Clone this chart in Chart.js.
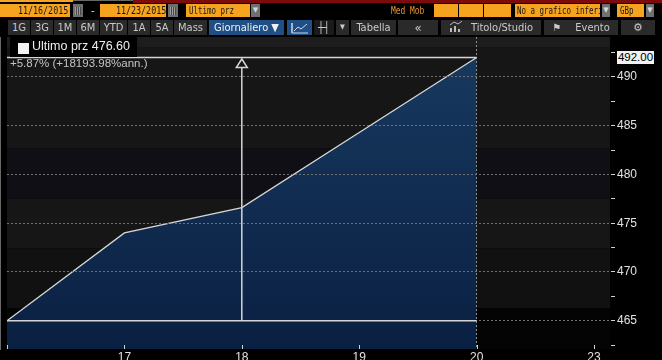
<!DOCTYPE html>
<html><head><meta charset="utf-8">
<script src="https://cdn.jsdelivr.net/npm/chart.js@4.4.1/dist/chart.umd.min.js"></script>
<style>
html,body{margin:0;padding:0;background:#000;overflow:hidden;width:662px;height:360px;}
#wrap{position:relative;width:662px;height:360px;background:#000;}
#c{position:absolute;left:0;top:0;}
.abs{position:absolute;white-space:nowrap;overflow:hidden;}
.ob{position:absolute;top:4px;height:13px;background:#f6a41f;color:#151515;font:11px "DejaVu Sans Mono",monospace;line-height:13px;white-space:nowrap;overflow:hidden;}
.ob span{display:inline-block;transform:scaleX(0.68);transform-origin:left center;}
.ob.r span{transform:scaleX(0.76);transform-origin:right center;}
.dd{position:absolute;top:4px;height:13px;background:#707070;color:#d8d8d8;font:7px "DejaVu Sans",sans-serif;line-height:13px;text-align:center;}
.cal{position:absolute;top:4px;height:13px;background:#6e6e6e;}
.cal i{position:absolute;left:2px;right:2px;top:3px;bottom:2px;background:repeating-linear-gradient(90deg,#9a9a9a 0 1px,#4a4a4a 1px 2px);}
.bt{position:absolute;top:20px;height:15px;background:#2a2a2a;color:#c9c9c9;font:11px "Liberation Sans Narrow","DejaVu Sans Condensed","Liberation Sans",sans-serif;line-height:15px;text-align:center;white-space:nowrap;overflow:hidden;}
.bt.blue{background:#1f4f85;color:#f0f0f0;}
</style>
</head>
<body>
<div id="wrap">
<canvas id="c" width="662" height="360"></canvas>

<!-- top strips -->
<div class="abs" style="left:0;top:0;width:73px;height:2px;background:#f6a41f"></div>
<div class="abs" style="left:133px;top:0;width:529px;height:3px;background:#7e0b0b"></div>

<!-- row 1 -->
<div class="ob r" style="left:0;width:70px;text-align:right"><span style="margin-right:2px">11/16/2015</span></div>
<div class="cal" style="left:73px;width:10px"><i></i></div>
<div class="abs" style="left:91px;top:4px;color:#ddd;font:11px 'Liberation Sans',sans-serif;line-height:13px">-</div>
<div class="ob r" style="left:100px;width:66px;text-align:right"><span style="margin-right:1px">11/23/2015</span></div>
<div class="cal" style="left:168px;width:10px"><i></i></div>
<div class="ob" style="left:186px;width:64px"><span style="margin-left:3px">Ultimo prz</span></div>
<div class="dd" style="left:251px;width:9px">▼</div>
<div class="abs" style="left:391px;top:4px;color:#e8932e;font:11px 'DejaVu Sans Mono',monospace;line-height:13px"><span style="display:inline-block;transform:scaleX(0.72);transform-origin:left center">Med Mob</span></div>
<div class="ob" style="left:434px;width:24px"></div>
<div class="ob" style="left:459px;width:24px"></div>
<div class="ob" style="left:484px;width:27px"></div>
<div class="ob" style="left:515px;width:85px"><span style="margin-left:2px">No a grafico inferi</span></div>
<div class="dd" style="left:602px;width:8px">▼</div>
<div class="ob" style="left:617px;width:27px"><span style="margin-left:3px">GBp</span></div>
<div class="dd" style="left:646px;width:8px">▼</div>

<!-- row 2 -->
<div class="bt" style="left:8px;width:22px">1G</div>
<div class="bt" style="left:31px;width:22px">3G</div>
<div class="bt" style="left:54px;width:22px">1M</div>
<div class="bt" style="left:77px;width:22px">6M</div>
<div class="bt" style="left:100px;width:27px">YTD</div>
<div class="bt" style="left:128px;width:22px">1A</div>
<div class="bt" style="left:151px;width:22px">5A</div>
<div class="bt" style="left:174px;width:33px">Mass</div>
<div class="bt blue" style="left:209px;width:75px">Giornaliero ▼</div>
<div class="bt blue" style="left:287px;width:25px"><svg width="18" height="12" style="margin-top:2px"><polyline points="1,11 1,1 1,11 17,11" fill="none" stroke="#cfd8e6" stroke-width="1"/><polyline points="3,9 7,5 10,7 16,2" fill="none" stroke="#cfd8e6" stroke-width="1"/></svg></div>
<div class="bt" style="left:314px;width:20px;background:#1a1a1a">┼┤</div>
<div class="bt" style="left:336px;width:13px;font-size:7px">▼</div>
<div class="bt" style="left:351px;width:45px">Tabella</div>
<div class="bt" style="left:398px;width:40px;font-size:13px">«</div>
<div class="bt" style="left:441px;width:100px"><svg width="14" height="11" style="margin-right:8px;vertical-align:-1px"><rect x="1" y="7" width="2" height="4" fill="#bbb"/><rect x="5" y="5" width="2" height="6" fill="#bbb"/><rect x="9" y="8" width="2" height="3" fill="#bbb"/><polyline points="1,4 5,1 9,3 13,0" fill="none" stroke="#bbb"/></svg>Titolo/Studio</div>
<div class="bt" style="left:544px;width:74px"><span style="font-family:'DejaVu Sans';font-size:10px;margin-right:14px">⚑</span>Evento</div>
<div class="bt" style="left:621px;width:34px;font-family:'DejaVu Sans';font-size:11px">⚙</div>

<!-- legend -->
<div class="abs" style="left:10px;top:35px;width:127px;height:22px;background:#000"></div>
<div class="abs" style="left:18px;top:43px;width:11px;height:11px;background:#f2f2f2"></div>
<div class="abs" id="leg" style="left:32px;top:39px;height:20px;line-height:20px;color:#eeeeee;font:12.5px 'Liberation Sans',sans-serif"></div>
<div class="abs" id="chg" style="left:10px;top:57px;height:14px;line-height:14px;color:#c4c4c4;font:11.5px 'Liberation Sans',sans-serif"></div>

<!-- last price tag -->
<div class="abs" id="tag" style="left:617px;top:50px;width:37px;height:13px;line-height:13px;background:#f2f2f2;color:#000;font:11.5px 'Liberation Sans',sans-serif;text-align:center;overflow:visible"></div>
</div>

<script>
// ---- data ----
const dayLabels   = ['16', '17', '18', '19', '20', '23'];   // trading days (Nov 2015)
const prices      = [465.0, 474.0, 476.6, 484.3, 492.0];   // closes for 16..20
const yTickValues = [465, 470, 475, 480, 485, 490];
const lastPrice   = 492.00;
const legendName  = 'Ultimo prz';
const legendValue = 476.60;
const changeText  = '+5.87% (+18193.98%ann.)';
const crossIdx    = 2;   // day 18
const nowIdx      = 4;   // day 20

document.getElementById('leg').textContent = legendName + ' ' + legendValue.toFixed(2);
document.getElementById('chg').textContent = changeText;
document.getElementById('tag').textContent = lastPrice.toFixed(2);

const points = prices.map((v, i) => ({x: i, y: v}));

const bandPlugin = {
  id: 'bands',
  beforeDraw(chart) {
    const {ctx, chartArea: a, scales: {y}} = chart;
    ctx.save();
    ctx.fillStyle = '#000';
    ctx.fillRect(0, 0, chart.width, chart.height);
    const edges  = [y.max, 493.0, 482.7, 477.5, 472.4, 466.3, y.min];
    const colors = ['#1d1d1d', '#161616', '#0f0f15', '#161616', '#111111', '#040404'];
    for (let i = 0; i < colors.length; i++) {
      const t = y.getPixelForValue(edges[i]);
      const b = y.getPixelForValue(edges[i + 1]);
      ctx.fillStyle = colors[i];
      ctx.fillRect(a.left, t, a.right - a.left, b - t);
    }
    ctx.restore();
  }
};

const overlayPlugin = {
  id: 'overlay',
  afterDraw(chart) {
    const {ctx, chartArea: a, scales: {x, y}} = chart;
    const lo = Math.min(...prices), hi = Math.max(...prices);
    const yLo = y.getPixelForValue(lo), yHi = y.getPixelForValue(hi);
    const xNow = x.getPixelForValue(nowIdx), xC = x.getPixelForValue(crossIdx);
    ctx.save();
    ctx.strokeStyle = '#d6d6d6';
    ctx.lineWidth = 1.5;
    ctx.beginPath();
    ctx.moveTo(a.left, yLo); ctx.lineTo(xNow, yLo);
    ctx.moveTo(a.left, yHi); ctx.lineTo(xNow, yHi);
    ctx.stroke();
    // vertical measure line with open arrow head
    ctx.beginPath();
    ctx.moveTo(xC, yLo); ctx.lineTo(xC, yHi + 10);
    ctx.stroke();
    ctx.beginPath();
    ctx.moveTo(xC, yHi + 1.5); ctx.lineTo(xC - 5.5, yHi + 10); ctx.lineTo(xC + 5.5, yHi + 10); ctx.closePath();
    ctx.stroke();
    // x-axis tick marks pointing up
    ctx.lineWidth = 1;
    ctx.strokeStyle = '#d0d0d0';
    ctx.beginPath();
    dayLabels.forEach((_, i) => {
      const px = Math.round(x.getPixelForValue(i)) + 0.5;
      ctx.moveTo(px, a.bottom); ctx.lineTo(px, a.bottom - 4);
    });
    ctx.stroke();
    ctx.restore();
    const tag = document.getElementById('tag');
    tag.style.top = (y.getPixelForValue(lastPrice) - 6.5) + 'px';
  }
};

new Chart(document.getElementById('c'), {
  type: 'line',
  data: {
    datasets: [{
      data: points,
      borderColor: '#d8d8d8',
      borderWidth: 1.3,
      pointRadius: 0,
      tension: 0,
      fill: 'start',
      backgroundColor: (c) => {
        const ch = c.chart, a = ch.chartArea;
        if (!a) return '#0f2a4d';
        const g = ch.ctx.createLinearGradient(0, a.top, 0, a.bottom);
        g.addColorStop(0, '#183a60');
        g.addColorStop(1, '#0a2042');
        return g;
      }
    }]
  },
  options: {
    responsive: false,
    animation: false,
    events: [],
    layout: {padding: {left: 7, top: 37, right: 0, bottom: 0}},
    plugins: {legend: {display: false}, tooltip: {enabled: false}},
    scales: {
      x: {
        type: 'linear', position: 'bottom', min: 0, max: 5.136,
        afterBuildTicks(s) { s.ticks = dayLabels.map((_, i) => ({value: i})); },
        afterFit(s) { s.height = 11; },
        ticks: {
          autoSkip: false, maxRotation: 0, padding: 1, color: '#e2e2e2',
          font: {family: 'Liberation Sans', size: 12},
          callback: (v) => (v === 0 ? '' : dayLabels[v])
        },
        grid: {
          z: 1, drawTicks: false, lineWidth: 1,
          color: (c) => (c.tick && c.tick.value === nowIdx ? '#8c8c8c' : 'rgba(0,0,0,0)')
        },
        border: {color: '#d0d0d0', width: 1, dash: [2, 2]}
      },
      y: {
        position: 'right', min: 462.1, max: 494.1,
        afterBuildTicks(s) {
          const vals = [];
          yTickValues.forEach(v => { vals.push(v - 2.5, v); });
          vals.push(yTickValues[yTickValues.length - 1] + 2.5);
          s.ticks = vals.map(v => ({value: v}));
        },
        afterFit(s) { s.width = 52; },
        ticks: {
          padding: 2, color: '#e2e2e2',
          font: {family: 'Liberation Sans', size: 12},
          callback: (v) => (yTickValues.includes(v) ? String(v) : '')
        },
        grid: {
          z: 1, lineWidth: 1, tickLength: 5, tickColor: '#d0d0d0', tickWidth: 1,
          color: (c) => (c.tick && yTickValues.includes(c.tick.value) ? '#707070' : 'rgba(0,0,0,0)')
        },
        border: {color: '#d0d0d0', width: 1, dash: [2, 2]}
      }
    }
  },
  plugins: [bandPlugin, overlayPlugin]
});
</script>
</body></html>
